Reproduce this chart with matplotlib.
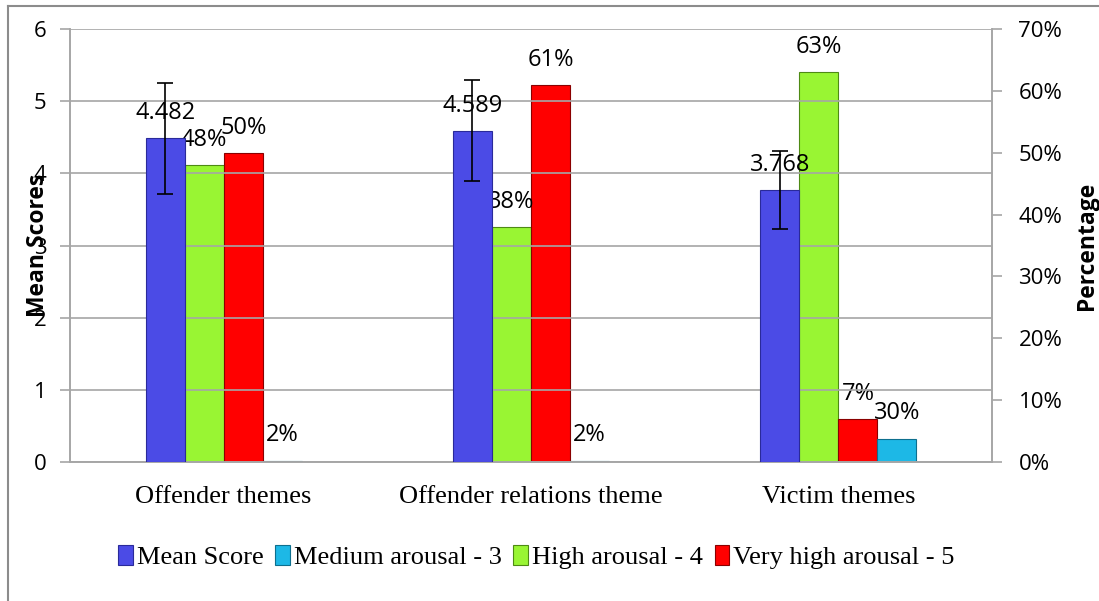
import numpy as np
import matplotlib
matplotlib.use("Agg")
import matplotlib.pyplot as plt
from matplotlib.lines import Line2D

categories = ["Offender themes", "Offender relations theme", "Victim themes"]
mean_score = [4.482, 4.589, 3.768]
mean_err = [0.77, 0.70, 0.54]
high_arousal = [48, 38, 63]
very_high_arousal = [50, 61, 7]
medium_arousal = [0.2, 0.2, 3.7]
medium_labels = ["2%", "2%", "30%"]
high_labels = ["48%", "38%", "63%"]
very_high_labels = ["50%", "61%", "7%"]

c_blue = "#4B4BE6"
c_cyan = "#1DB8E6"
c_green = "#99F533"
c_red = "#FF0000"
grid_col = "#A6A6A6"

sans = ["Open Sans", "DejaVu Sans"]
serif = ["Liberation Serif", "DejaVu Serif"]

fig = plt.figure(figsize=(10.99, 6.01), dpi=100)
ax = fig.add_axes([0.0637, 0.231, 0.839, 0.721])
ax2 = ax.twinx()

x = np.arange(len(categories))
w = 0.127
offs = np.array([-1.5, -0.5, 0.5, 1.5]) * w

ax.bar(x + offs[0], mean_score, w, color=c_blue, edgecolor="#2A2A9A", linewidth=0.8, zorder=3)
ax.errorbar(x + offs[0], mean_score, yerr=mean_err, fmt="none", ecolor="black",
            elinewidth=1.2, capsize=6, capthick=1.2, zorder=5)
ax2.bar(x + offs[1], high_arousal, w, color=c_green, edgecolor="#4E8A14", linewidth=0.8, zorder=3)
ax2.bar(x + offs[2], very_high_arousal, w, color=c_red, edgecolor="#8A0000", linewidth=0.8, zorder=3)
ax2.bar(x + offs[3], medium_arousal, w, color=c_cyan, edgecolor="#0E6F8E", linewidth=0.8, zorder=3)

ax.set_ylim(0, 6)
ax2.set_ylim(0, 70)
ax.set_xlim(-0.5, 2.5)
ax.set_zorder(ax2.get_zorder() + 1)
ax.patch.set_visible(False)

ax.set_yticks(range(0, 7))
ax.yaxis.grid(True, color=grid_col, linewidth=1.2)
ax.set_axisbelow(True)
ax2.set_yticks(range(0, 71, 10))
ax2.set_yticklabels([f"{v}%" for v in range(0, 71, 10)])

for a in (ax, ax2):
    for s in a.spines.values():
        s.set_color(grid_col)
        s.set_linewidth(1.2)
    a.spines["top"].set_visible(False)
    a.tick_params(axis="y", direction="out", length=7, width=1.2, color=grid_col,
                  labelsize=16)
ax.tick_params(axis="y", pad=10)
ax2.tick_params(axis="y", pad=12)
for lab in ax.get_yticklabels() + ax2.get_yticklabels():
    lab.set_family(sans)

ax.set_xticks([0.5, 1.5])
ax.set_xticklabels([])
ax.tick_params(axis="x", direction="out", length=7, width=1.2, color=grid_col)
ax.set_xticks(x, minor=True)
ax.set_xticklabels(categories, minor=True, fontsize=19, family=serif)
ax.tick_params(axis="x", which="minor", length=0, pad=17)
ax2.set_xticks([])

ax.set_ylabel("Mean Scores", fontsize=16.5, fontweight="bold", family=sans, labelpad=-12)
ax2.set_ylabel("Percentage", fontsize=16.5, fontweight="bold", family=sans, labelpad=9)

# data labels
lab_kw = dict(textcoords="offset points", ha="center", va="center", fontsize=17, family=sans)
for i in range(len(categories)):
    ax.annotate(f"{mean_score[i]:.3f}", (x[i] + offs[0], mean_score[i]), xytext=(0, 18),
                zorder=6, **lab_kw)
    ax2.annotate(high_labels[i], (x[i] + offs[1], high_arousal[i]), xytext=(0, 18), **lab_kw)
    ax2.annotate(very_high_labels[i], (x[i] + offs[2], very_high_arousal[i]),
                 xytext=(0, 18), **lab_kw)
    ax2.annotate(medium_labels[i], (x[i] + offs[3], medium_arousal[i]), xytext=(0, 19),
                 **lab_kw)

handles = [plt.Rectangle((0, 0), 1, 1, facecolor=c, edgecolor=e, linewidth=0.8)
           for c, e in [(c_blue, "#2A2A9A"), (c_cyan, "#0E6F8E"),
                        (c_green, "#4E8A14"), (c_red, "#8A0000")]]
fig.legend(handles, ["Mean Score", "Medium arousal - 3", "High arousal - 4",
                     "Very high arousal - 5"],
           loc="center", bbox_to_anchor=(0.488, 0.073), ncol=4, frameon=False,
           prop={"family": serif, "size": 19}, handlelength=0.55, handleheight=0.75,
           handletextpad=0.15, columnspacing=0.45)

# chart-area border (top and left only visible)
fig.add_artist(Line2D([0.0073, 0.0073], [0.0, 0.99], transform=fig.transFigure,
                      color="#8C8C8C", linewidth=1.5))
fig.add_artist(Line2D([0.0073, 1.0], [0.99, 0.99], transform=fig.transFigure,
                      color="#8C8C8C", linewidth=1.5))

fig.savefig("out.png", dpi=100)
